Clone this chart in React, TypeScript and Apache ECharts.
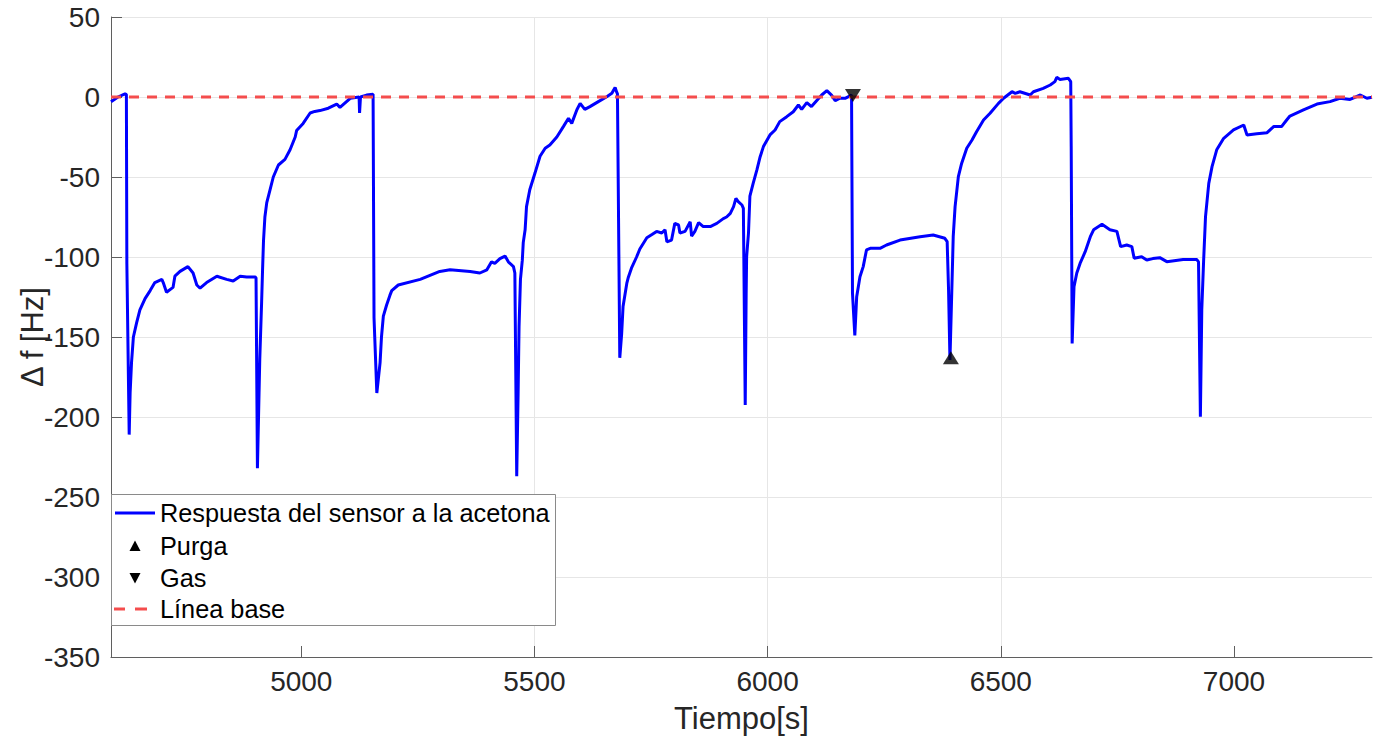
import React, { useEffect, useRef } from "react";
import * as echarts from "echarts";

const tiempo = [
  4592, 4607, 4622, 4625, 4626, 4631, 4633, 4636, 4640, 4647, 4654, 4665, 4676, 4686, 4701, 4704, 4711, 4725, 4729, 4740,
  4757, 4768, 4776, 4783, 4797, 4819, 4840, 4854, 4869, 4883, 4901, 4903, 4906, 4911, 4915, 4917, 4919, 4921, 4922, 4926,
  4933, 4940, 4951, 4965, 4976, 4987, 4990, 5004, 5019, 5029, 5040, 5058, 5076, 5083, 5105, 5124, 5125, 5127, 5140, 5154,
  5155, 5156, 5162, 5169, 5172, 5176, 5183, 5190, 5194, 5208, 5255, 5297, 5319, 5362, 5383, 5398, 5408, 5415, 5426, 5437,
  5444, 5455, 5458, 5462, 5465, 5467, 5470, 5474, 5476, 5480, 5483, 5490, 5501, 5512, 5523, 5533, 5548, 5562, 5573, 5580,
  5591, 5598, 5608, 5619, 5637, 5655, 5666, 5673, 5676, 5678, 5683, 5687, 5690, 5698, 5701, 5708, 5719, 5726, 5741, 5752,
  5762, 5773, 5780, 5784, 5794, 5801, 5809, 5812, 5823, 5834, 5837, 5844, 5852, 5862, 5877, 5891, 5905, 5912, 5920, 5927,
  5932, 5937, 5945, 5948, 5952, 5954, 5955, 5959, 5962, 5969, 5977, 5984, 5991, 6005, 6016, 6026, 6041, 6055, 6066, 6073,
  6084, 6094, 6105, 6116, 6127, 6137, 6145, 6155, 6166, 6180, 6182, 6187, 6191, 6198, 6205, 6212, 6220, 6241, 6255, 6284,
  6327, 6355, 6380, 6385, 6388, 6391, 6395, 6398, 6402, 6409, 6416, 6427, 6438, 6448, 6463, 6477, 6495, 6506, 6524, 6531,
  6541, 6563, 6570, 6591, 6606, 6616, 6620, 6627, 6645, 6650, 6651, 6653, 6657, 6663, 6670, 6681, 6692, 6699, 6717, 6734,
  6749, 6757, 6770, 6781, 6786, 6802, 6813, 6826, 6841, 6856, 6891, 6920, 6924, 6928, 6931, 6935, 6939, 6946, 6953, 6963,
  6978, 6999, 7021, 7028, 7049, 7071, 7085, 7102, 7113, 7120, 7149, 7178, 7206, 7227, 7249, 7271, 7285, 7296,
];

const respuesta = [
  -3, 0, 2, 1.5, -104, -211, -185, -166, -150, -141, -133, -126, -121, -116, -114, -116, -122, -119, -112, -109,
  -106, -110, -117.5, -119.5, -116, -112, -114, -115, -112, -112.5, -112.5, -113, -232, -164, -128, -108, -90, -80, -75, -66,
  -58, -50, -42.5, -39, -33, -25, -21, -16.5, -10, -9, -8.5, -7, -4.4, -6.5, -0.8, 0, -10, 0, 1.2, 1.7,
  1.5, -138, -185, -166, -150, -137, -130, -124, -121, -117.5, -114, -109, -108, -109, -110, -108, -103, -104, -101, -99.4,
  -103, -106, -110, -237, -185, -143.5, -114, -102, -91, -83, -68.5, -58, -47.7, -37, -32, -30, -25, -18.5, -13.3, -16.5,
  -8, -4, -7.7, -6, -2.9, 0.2, 2.3, 6, 3.3, 2, -163, -148, -131, -116.5, -113, -107, -100, -95, -88, -86,
  -84, -85, -83, -90.5, -89.4, -79, -80, -85, -84, -78, -87, -84, -78.5, -81, -81, -79, -76, -75, -72.7, -68.5,
  -63.3, -65.4, -67.5, -69.6, -192.5, -122.7, -99.8, -85, -62, -54, -45.6, -37.3, -31, -23.7, -20.6, -15.4, -12.3, -9.2, -5, -7.7,
  -3.5, -6, -2.3, 1.25, 4, 1.2, -2.3, -0.8, -0.8, 1.2, -122.7, -149, -124.8, -112.3, -106, -95.6, -94.6, -94.6, -92.5, -89.4,
  -87.3, -86.25, -88.3, -90.4, -120.6, -164.4, -120.6, -87.3, -68.5, -49.8, -41.5, -32, -27, -21.7, -14.4, -10.2, -4, -0.8, 3.3, 2.3,
  3.3, 1.25, 3.3, 5.4, 7.5, 9.6, 12.3, 11, 11.7, 9.6, -31, -154, -118.5, -110, -104, -96.7, -87.3, -83, -79.6, -83,
  -84, -93.5, -92.5, -93.5, -100.8, -99.8, -101.9, -101, -100.4, -102.9, -101.5, -101.5, -103, -199.8, -133, -101.9, -74.8, -54, -43.5, -33,
  -25.8, -20.6, -17.5, -23.75, -23, -22.3, -18.5, -18.5, -14.4, -11.9, -8.1, -4.4, -2.9, -0.8, -1.5, 1.25, -0.8, -0.2,
];

const purga = [[6393, -163]];
const gas = [[6183, 1]];
const lineaBase = [[4592, 0], [7296, 0]];
const xTicks = [5000, 5500, 6000, 6500, 7000];
const X_MIN = 4592;
const X_MAX = 7296;
const Y_MIN = -350;
const Y_MAX = 50;
const Y_STEP = 50;

const FONT = '"Liberation Sans", Arial, Helvetica, sans-serif';
const AXIS = "#5f5f5f";
const GRID = "#e6e6e6";
const TXT = "#262626";
const BLUE = "#0000ff";
const RED = "#f44d4d";

export default function App() {
  const ref = useRef<HTMLDivElement>(null);
  useEffect(() => {
    if (!ref.current) return;
    const chart = echarts.init(ref.current, undefined, { renderer: "svg" });
    const respData = tiempo.map((t, i) => [t, respuesta[i]]);
    const lx = 111;
    const ly = 494;
    const rows = [513, 546, 578, 609];
    chart.setOption({
      animation: false,
      backgroundColor: "#ffffff",
      grid: { left: 111, top: 17, right: 9, bottom: 87, containLabel: false, outerBoundsMode: "none" },
      xAxis: {
        type: "value",
        min: X_MIN,
        max: X_MAX,
        name: "Tiempo[s]",
        nameLocation: "middle",
        nameGap: 46,
        nameMoveOverlap: false,
        nameTextStyle: { fontSize: 31, color: TXT, fontFamily: FONT },
        axisLine: { show: true, onZero: false, lineStyle: { color: AXIS, width: 1 } },
        axisTick: { show: true, inside: true, length: 11, customValues: xTicks, lineStyle: { color: AXIS } },
        axisLabel: {
          customValues: xTicks,
          fontSize: 28,
          color: TXT,
          fontFamily: FONT,
          margin: 10,
          formatter: (v: number) => String(v),
        },
        splitLine: { show: true, showMinLine: false, showMaxLine: false, lineStyle: { color: GRID, width: 1 } },
      },
      yAxis: {
        type: "value",
        min: Y_MIN,
        max: Y_MAX,
        interval: Y_STEP,
        name: "Δ f [Hz]",
        nameLocation: "middle",
        nameGap: 63,
        nameMoveOverlap: false,
        nameTextStyle: { fontSize: 31, color: TXT, fontFamily: FONT },
        axisLine: { show: true, onZero: false, lineStyle: { color: AXIS, width: 1 } },
        axisTick: { show: true, inside: true, length: 11, lineStyle: { color: AXIS } },
        axisLabel: { fontSize: 28, color: TXT, fontFamily: FONT, margin: 11, formatter: (v: number) => String(v) },
        splitLine: { show: true, lineStyle: { color: GRID, width: 1 } },
      },
      series: [
        {
          name: "Respuesta del sensor a la acetona",
          type: "line",
          data: respData,
          showSymbol: false,
          symbol: "none",
          lineStyle: { color: BLUE, width: 3 },
          z: 2,
        },
        {
          name: "Línea base",
          type: "line",
          data: lineaBase,
          symbol: "none",
          lineStyle: { color: RED, width: 3, type: [10, 8] },
          z: 3,
        },
        {
          name: "Purga",
          type: "scatter",
          data: purga,
          symbol: "triangle",
          symbolSize: [16, 13],
          itemStyle: { color: "#000000" },
          z: 4,
        },
        {
          name: "Gas",
          type: "scatter",
          data: gas,
          symbol: "triangle",
          symbolRotate: 180,
          symbolSize: [16, 13],
          itemStyle: { color: "#000000" },
          z: 4,
        },
      ],
      graphic: [
        {
          type: "rect",
          z: 100,
          shape: { x: lx + 0.5, y: ly + 0.5, width: 444, height: 131 },
          style: { fill: "#ffffff", stroke: "#8a8a8a", lineWidth: 1 },
        },
        {
          type: "line",
          z: 101,
          shape: { x1: 115, y1: rows[0], x2: 155, y2: rows[0] },
          style: { stroke: BLUE, lineWidth: 3 },
        },
        {
          type: "polygon",
          z: 101,
          shape: { points: [[135, rows[1] - 5.5], [129.5, rows[1] + 5], [140.5, rows[1] + 5]] },
          style: { fill: "#000000" },
        },
        {
          type: "polygon",
          z: 101,
          shape: { points: [[135, rows[2] + 5.5], [129.5, rows[2] - 5], [140.5, rows[2] - 5]] },
          style: { fill: "#000000" },
        },
        {
          type: "line",
          z: 101,
          shape: { x1: 114, y1: rows[3], x2: 125, y2: rows[3] },
          style: { stroke: RED, lineWidth: 3 },
        },
        {
          type: "line",
          z: 101,
          shape: { x1: 135, y1: rows[3], x2: 147, y2: rows[3] },
          style: { stroke: RED, lineWidth: 3 },
        },
        ...["Respuesta del sensor a la acetona", "Purga", "Gas", "Línea base"].map((label, i) => ({
          type: "text",
          z: 101,
          x: 160,
          y: rows[i],
          style: {
            text: label,
            fontSize: 25.3,
            fontFamily: FONT,
            fill: "#000000",
            verticalAlign: "middle",
            align: "left",
          },
        })),
      ],
    });
    return () => chart.dispose();
  }, []);
  return (
    <div
      ref={ref}
      style={{ position: "fixed", left: 0, top: 0, width: 1381, height: 744, background: "#fff" }}
    />
  );
}
